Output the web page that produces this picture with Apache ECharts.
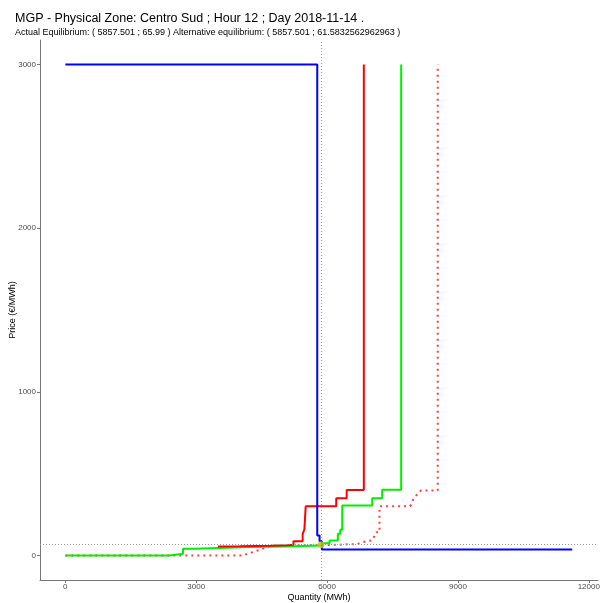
<!DOCTYPE html>
<html>
<head>
<meta charset="utf-8">
<script src="https://cdn.jsdelivr.net/npm/echarts@6/dist/echarts.min.js"></script>
<style>
html,body{margin:0;padding:0;background:#fff;}
#chart{width:601px;height:603px;}
</style>
</head>
<body>
<div id="chart"></div>
<script>
// Demand curve (blue)
const demandQ = [0, 5775, 5775, 5828, 5828, 5880, 5880, 11620];
const demandP = [3000, 3000, 122, 122, 87, 87, 37, 37];
// Actual supply curve (red solid)
const supplyQ = [3500, 4000, 4700, 5100, 5230, 5230, 5440, 5440, 5480, 5480, 5510, 5510, 6210, 6210, 6450, 6450, 6843, 6843];
const supplyP = [55, 57, 60, 63, 65, 87, 87, 130, 130, 160, 160, 300, 300, 350, 350, 400, 400, 3000];
// Alternative supply curve (green)
const greenQ = [0, 2393, 2393, 2698, 2698, 2966, 2966, 4225, 5000, 5904, 5904, 6057, 6057, 6247, 6247, 6302, 6302, 6348, 6348, 7035, 7035, 7263, 7263, 7699, 7699];
const greenP = [0, 0, 10, 10, 41, 41, 51, 51, 55, 61, 75, 75, 92, 92, 132, 132, 157, 157, 305, 305, 350, 350, 401, 401, 3000];
// Alternative supply curve (red dotted)
const altQ = [0, 4065, 4752, 5500, 6200, 6700, 6900, 7035, 7126, 7202, 7202, 7905, 7950, 7990, 8080, 8150, 8537, 8537];
const altP = [0, 0, 61, 63, 65, 70, 87, 92, 142, 142, 301, 301, 326, 352, 377, 397, 397, 3000];
// Equilibrium
const eqQ = 5857.501;
const eqP = 65.99;
// Ticks
const xTicks = [0, 3000, 6000, 9000, 12000];
const yTicks = [0, 1000, 2000, 3000];
const titleText = 'MGP - Physical Zone: Centro Sud ; Hour 12 ; Day 2018-11-14 .';
const subText = 'Actual Equilibrium: ( 5857.501 ; 65.99 ) Alternative equilibrium: ( 5857.501 ; 61.5832562962963 )';

const zip = (a, b) => a.map((v, i) => [v, b[i]]);
const chart = echarts.init(document.getElementById('chart'));
const font = 'Liberation Sans, Arial, sans-serif';
chart.setOption({
  animation: false,
  backgroundColor: '#ffffff',
  title: {
    text: titleText,
    subtext: subText,
    left: 10, top: 7,
    itemGap: 3,
    textStyle: {fontFamily: font, fontSize: 12.5, fontWeight: 'normal', color: '#000'},
    subtextStyle: {fontFamily: font, fontSize: 9, color: '#000'}
  },
  grid: {left: 40, right: 3, top: 40, bottom: 23, containLabel: false, outerBoundsMode: 'none'},
  xAxis: {
    type: 'value', min: -581, max: 12211,
    name: 'Quantity (MWh)', nameLocation: 'middle', nameGap: 13, nameMoveOverlap: false,
    nameTextStyle: {fontFamily: font, fontSize: 9, color: '#000'},
    axisLine: {onZero: false, lineStyle: {color: '#777', width: 1}},
    axisTick: {show: true, length: 3, lineStyle: {color: '#777'}, customValues: xTicks},
    axisLabel: {fontFamily: font, fontSize: 8, color: '#4d4d4d', margin: 3, customValues: xTicks, formatter: v => String(v)},
    splitLine: {show: false}
  },
  yAxis: {
    type: 'value', min: -150, max: 3150,
    name: 'Price (€/MWh)', nameLocation: 'middle', nameGap: 23, nameRotate: 90, nameMoveOverlap: false,
    nameTextStyle: {fontFamily: font, fontSize: 9, color: '#000'},
    axisLine: {onZero: false, lineStyle: {color: '#777', width: 1}},
    axisTick: {show: true, length: 3, lineStyle: {color: '#777'}, customValues: yTicks},
    axisLabel: {fontFamily: font, fontSize: 8, color: '#4d4d4d', margin: 4, customValues: yTicks, formatter: v => String(v)},
    splitLine: {show: false}
  },
  series: [
    {
      type: 'line', data: zip(altQ, altP), symbol: 'none',
      lineStyle: {color: '#ff0000', width: 2, type: [2, 4], opacity: 0.75}, z: 2
    },
    {
      type: 'line', data: zip(greenQ, greenP), symbol: 'none',
      lineStyle: {color: '#00ee00', width: 2}, z: 3
    },
    {
      type: 'line', data: zip(supplyQ, supplyP), symbol: 'none',
      lineStyle: {color: '#ff0000', width: 2}, z: 4
    },
    {
      type: 'line', data: zip(demandQ, demandP), symbol: 'none',
      lineStyle: {color: '#0000ff', width: 2}, z: 5,
      markLine: {
        silent: true, symbol: 'none', label: {show: false},
        lineStyle: {color: '#999', type: [1, 2], width: 1},
        data: [{xAxis: eqQ}, {yAxis: eqP}]
      }
    },
    {
      type: 'scatter', data: [[eqQ, eqP]], symbolSize: 7,
      itemStyle: {color: '#cccc00'}, z: 10
    }
  ]
});
</script>
</body>
</html>
